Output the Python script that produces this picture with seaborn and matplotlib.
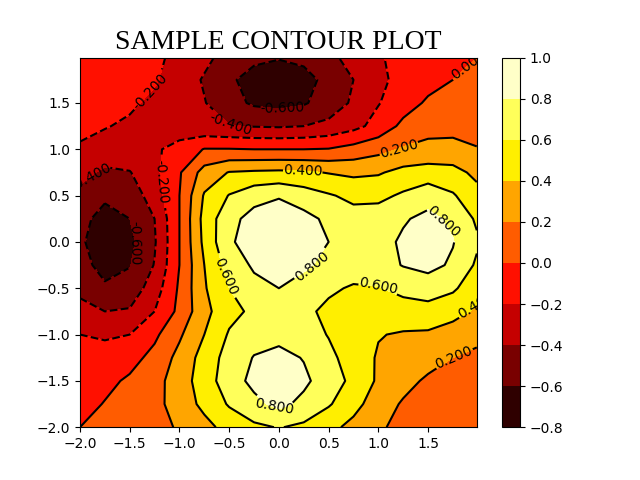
import numpy as np
import matplotlib
matplotlib.use("Agg")
import matplotlib.pyplot as plt
import seaborn as sns

# grid, rows go from the top of the plot down
x_vals = [-2, -1.75, -1.5, -1.25, -1, -0.75, -0.5, -0.25, 0, 0.25, 0.5, 0.75, 1, 1.25, 1.5, 1.75, 1.99]
y_vals = [1.99, 1.75, 1.5, 1.25, 1, 0.75, 0.5, 0.25, 0, -0.25, -0.5, -0.75, -1, -1.25, -1.5, -1.75, -2]

row_01 = [-0.10, -0.12, -0.13, -0.17, -0.24, -0.35, -0.48, -0.56, -0.59, -0.56, -0.45, -0.33, -0.22, -0.14, -0.08, -0.04, 0.00]
row_02 = [-0.09, -0.10, -0.13, -0.18, -0.29, -0.42, -0.57, -0.67, -0.70, -0.66, -0.55, -0.40, -0.25, -0.13, -0.07, 0.00, 0.06]
row_03 = [-0.10, -0.13, -0.17, -0.24, -0.31, -0.39, -0.53, -0.63, -0.66, -0.62, -0.51, -0.37, -0.21, -0.09, 0.03, 0.09, 0.14]
row_04 = [-0.16, -0.19, -0.23, -0.27, -0.31, -0.36, -0.39, -0.41, -0.42, -0.40, -0.35, -0.26, -0.13, 0.05, 0.14, 0.15, 0.13]
row_05 = [-0.22, -0.27, -0.27, -0.23, -0.13, 0.01, 0.01, 0.00, 0.00, 0.00, 0.01, 0.07, 0.14, 0.22, 0.25, 0.25, 0.21]
row_06 = [-0.33, -0.44, -0.41, -0.25, -0.02, 0.28, 0.41, 0.43, 0.44, 0.43, 0.39, 0.36, 0.38, 0.46, 0.49, 0.47, 0.35]
row_07 = [-0.46, -0.57, -0.52, -0.30, 0.00, 0.42, 0.61, 0.73, 0.78, 0.70, 0.62, 0.55, 0.55, 0.63, 0.72, 0.62, 0.47]
row_08 = [-0.55, -0.66, -0.60, -0.40, 0.00, 0.47, 0.74, 0.87, 0.93, 0.86, 0.76, 0.68, 0.70, 0.78, 0.85, 0.76, 0.57]
row_09 = [-0.57, -0.71, -0.65, -0.42, 0.00, 0.45, 0.77, 0.90, 0.95, 0.89, 0.80, 0.72, 0.73, 0.83, 0.89, 0.81, 0.63]
row_10 = [-0.53, -0.67, -0.61, -0.39, 0.00, 0.40, 0.68, 0.83, 0.90, 0.83, 0.75, 0.69, 0.72, 0.81, 0.86, 0.77, 0.57]
row_11 = [-0.46, -0.57, -0.52, -0.30, 0.03, 0.38, 0.60, 0.74, 0.80, 0.73, 0.63, 0.58, 0.59, 0.65, 0.69, 0.63, 0.48]
row_12 = [-0.32, -0.40, -0.38, -0.20, 0.05, 0.34, 0.54, 0.64, 0.69, 0.64, 0.56, 0.50, 0.50, 0.52, 0.53, 0.47, 0.37]
row_13 = [-0.20, -0.22, -0.20, -0.04, 0.17, 0.40, 0.62, 0.72, 0.74, 0.69, 0.59, 0.50, 0.41, 0.38, 0.37, 0.31, 0.25]
row_14 = [-0.16, -0.14, -0.07, 0.06, 0.26, 0.48, 0.68, 0.81, 0.86, 0.79, 0.65, 0.51, 0.38, 0.32, 0.27, 0.20, 0.16]
row_15 = [-0.11, -0.05, 0.03, 0.13, 0.30, 0.50, 0.71, 0.85, 0.91, 0.84, 0.70, 0.55, 0.37, 0.26, 0.17, 0.12, 0.08]
row_16 = [-0.07, 0.01, 0.07, 0.14, 0.29, 0.45, 0.62, 0.75, 0.85, 0.75, 0.62, 0.47, 0.29, 0.18, 0.11, 0.07, 0.05]
row_17 = [0.00, 0.03, 0.08, 0.14, 0.22, 0.34, 0.47, 0.56, 0.61, 0.56, 0.46, 0.34, 0.23, 0.14, 0.08, 0.05, 0.03]

fill_levels = [-0.8, -0.6, -0.4, -0.2, 0.0, 0.2, 0.4, 0.6, 0.8, 1.0]
line_levels = [-0.6, -0.4, -0.2, 0.0, 0.2, 0.4, 0.6, 0.8]

# where the contour labels sit in the reference
label_spots = [(-1.27, 1.59), (-1.15, 0.66), (-1.9, 0.72), (-0.48, 1.31), (0.04, 1.39),
               (-1.4, -0.03), (1.9, 1.93), (1.2, 1.03), (1.76, -1.24), (0.24, 0.77),
               (1.97, -0.66), (-0.55, -0.38), (1.0, -0.45), (1.7, 0.26), (0.35, -0.31),
               (-0.04, -1.75)]

z_vals = np.array([row_01, row_02, row_03, row_04, row_05, row_06, row_07, row_08, row_09,
                   row_10, row_11, row_12, row_13, row_14, row_15, row_16, row_17])

# one colour per band, taken from the middle of each band of the hot map
hot = sns.color_palette("hot", as_cmap=True)
n_bands = len(fill_levels) - 1
band_colors = sns.color_palette([hot((i + 0.5) / n_bands) for i in range(n_bands)])

fig, ax = plt.subplots(figsize=(6.4, 4.8), dpi=100)
filled = ax.contourf(x_vals, y_vals, z_vals, levels=fill_levels, colors=band_colors)
lines = ax.contour(x_vals, y_vals, z_vals, levels=line_levels, colors="black")
ax.clabel(lines, inline=True, fontsize=10, fmt="%.3f", manual=label_spots)
fig.colorbar(filled, ax=ax)
ax.set_title("SAMPLE CONTOUR PLOT", fontsize=20, family="Liberation Serif")
fig.savefig("out.png")
